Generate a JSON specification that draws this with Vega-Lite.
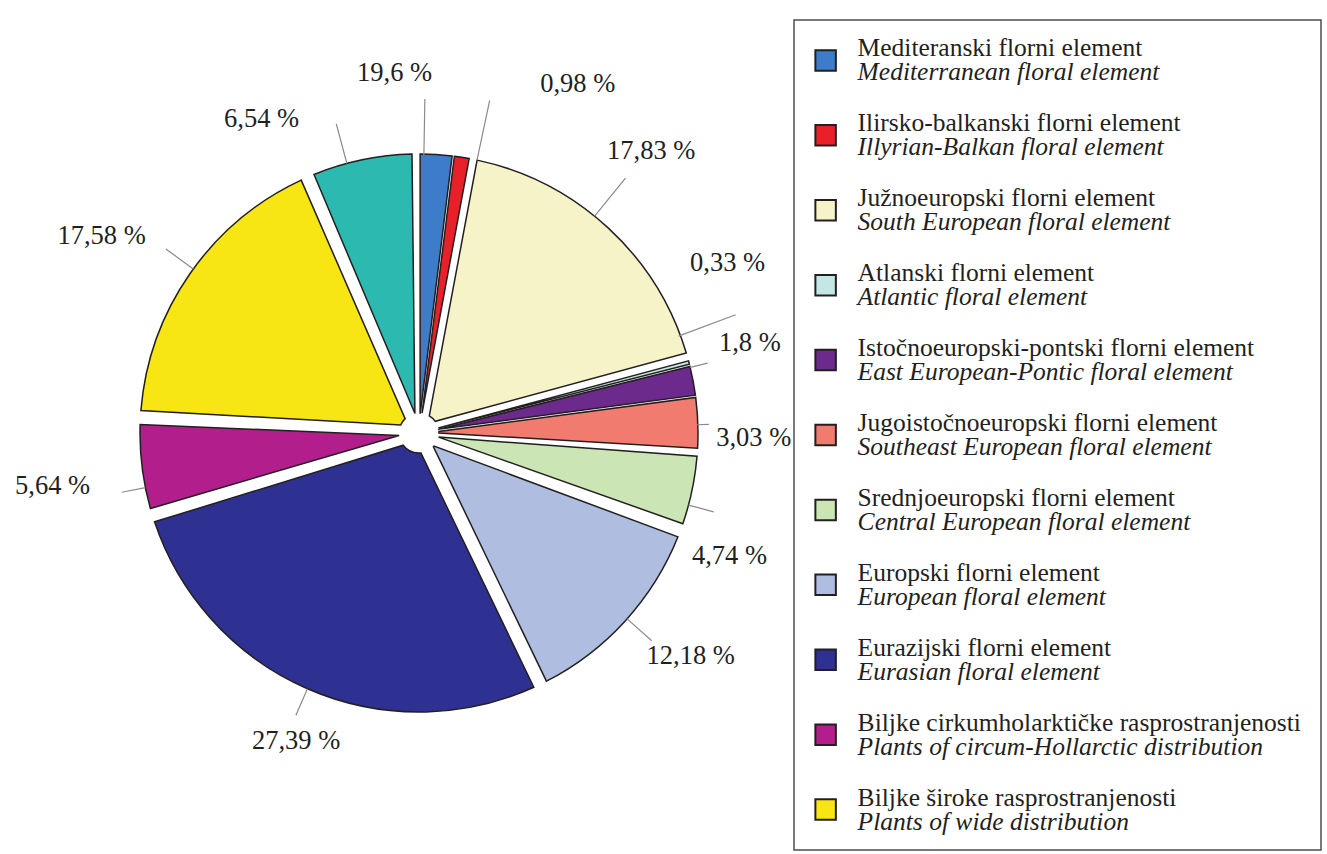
{
  "$schema": "https://vega.github.io/schema/vega-lite/v6.json",
  "background": "white",
  "padding": {"left": 15, "top": 19, "right": 0, "bottom": 0},
  "spacing": 0,
  "bounds": "flush",
  "config": {"font": "Liberation Serif"},
  "datasets": {
    "slices": [
      {"order": 1, "key": "med", "value": 1.96, "label": "19,6 %", "hr": "Mediteranski florni element", "en": "Mediterranean floral element"},
      {"order": 2, "key": "ill", "value": 0.98, "label": "0,98 %", "hr": "Ilirsko-balkanski florni element", "en": "Illyrian-Balkan floral element"},
      {"order": 3, "key": "se", "value": 17.83, "label": "17,83 %", "hr": "Južnoeuropski florni element", "en": "South European floral element"},
      {"order": 4, "key": "atl", "value": 0.33, "label": "0,33 %", "hr": "Atlanski florni element", "en": "Atlantic floral element"},
      {"order": 5, "key": "eep", "value": 1.8, "label": "1,8 %", "hr": "Istočnoeuropski-pontski florni element", "en": "East European-Pontic floral element"},
      {"order": 6, "key": "see", "value": 3.03, "label": "3,03 %", "hr": "Jugoistočnoeuropski florni element", "en": "Southeast European floral element"},
      {"order": 7, "key": "ce", "value": 4.74, "label": "4,74 %", "hr": "Srednjoeuropski florni element", "en": "Central European floral element"},
      {"order": 8, "key": "eur", "value": 12.18, "label": "12,18 %", "hr": "Europski florni element", "en": "European floral element"},
      {"order": 9, "key": "eura", "value": 27.39, "label": "27,39 %", "hr": "Eurazijski florni element", "en": "Eurasian floral element"},
      {"order": 10, "key": "circ", "value": 5.64, "label": "5,64 %", "hr": "Biljke cirkumholarktičke rasprostranjenosti", "en": "Plants of circum-Hollarctic distribution"},
      {"order": 11, "key": "wide", "value": 17.58, "label": "17,58 %", "hr": "Biljke široke rasprostranjenosti", "en": "Plants of wide distribution"},
      {"order": 12, "key": "other", "value": 6.54, "label": "6,54 %", "hr": null, "en": null}
    ]
  },
  "hconcat": [
    {
      "width": 750,
      "height": 826,
      "view": {"stroke": null},
      "data": {"name": "slices"},
      "transform": [
        {"stack": "value", "groupby": [], "sort": [{"field": "order", "order": "ascending"}], "as": ["v0", "v1"]}
      ],
      "layer": [
        {
          "transform": [{"filter": {"field": "key", "oneOf": ["se", "ce", "eur", "eura", "circ", "wide", "other"]}}],
          "mark": {"type": "arc", "innerRadius": 20, "outerRadius": 279, "padAngle": 0.05, "stroke": "#231f20", "strokeWidth": 1.5},
          "encoding": {
            "theta": {"field": "v0", "type": "quantitative", "scale": {"domain": [0, 100]}},
            "theta2": {"field": "v1"},
            "color": {"field": "key", "type": "nominal", "legend": null,
              "scale": {"domain": ["med", "ill", "se", "atl", "eep", "see", "ce", "eur", "eura", "circ", "wide", "other"],
                        "range": ["#3d7cc9", "#e8202a", "#f7f3c8", "#c4e6e4", "#6b2a8c", "#f07b6e", "#cce5b5", "#aebde0", "#2e3192", "#b31e8d", "#f7e614", "#2bb9b0"]}}
          }
        },
        {
          "transform": [{"filter": {"field": "key", "oneOf": ["med", "ill", "atl", "eep", "see"]}}],
          "mark": {"type": "arc", "innerRadius": 20, "outerRadius": 279, "padAngle": 0.008, "stroke": "#231f20", "strokeWidth": 1.5},
          "encoding": {
            "theta": {"field": "v0", "type": "quantitative", "scale": {"domain": [0, 100]}},
            "theta2": {"field": "v1"},
            "color": {"field": "key", "type": "nominal", "legend": null}
          }
        },
        {
          "transform": [
            {"fold": ["v0", "v1"], "as": ["edge", "pos"]},
            {"aggregate": [{"op": "mean", "field": "pos", "as": "mid"}], "groupby": ["key", "label"]}
          ],
          "encoding": {
            "theta": {"field": "mid", "type": "quantitative", "scale": {"domain": [0, 100]}}
          },
          "layer": [
            {"transform": [{"filter": "datum.key === 'med'"}], "layer": [
              {"mark": {"type": "arc", "innerRadius": 278, "outerRadius": 334, "thetaOffset": -0.044, "theta2Offset": -0.044, "stroke": "#8a8a8a", "strokeWidth": 1.2, "fill": null}, "encoding": {"theta2": {"field": "mid"}}},
              {"mark": {"type": "text", "radius": 350, "dx": -46, "dy": -11, "fontSize": 26.5, "font": "Liberation Serif", "color": "#231f20", "align": "center", "baseline": "middle"}, "encoding": {"text": {"field": "label"}}}
            ]},
            {"transform": [{"filter": "datum.key === 'ill'"}], "layer": [
              {"mark": {"type": "arc", "innerRadius": 279, "outerRadius": 340, "thetaOffset": 0.0555, "theta2Offset": 0.0555, "stroke": "#8a8a8a", "strokeWidth": 1.2, "fill": null}, "encoding": {"theta2": {"field": "mid"}}},
              {"mark": {"type": "text", "radius": 350, "dx": 105, "dy": -3, "fontSize": 26.5, "font": "Liberation Serif", "color": "#231f20", "align": "center", "baseline": "middle"}, "encoding": {"text": {"field": "label"}}}
            ]},
            {"transform": [{"filter": "datum.key === 'se'"}], "layer": [
              {"mark": {"type": "arc", "innerRadius": 279, "outerRadius": 328, "thetaOffset": -0.064, "theta2Offset": -0.064, "stroke": "#8a8a8a", "strokeWidth": 1.2, "fill": null}, "encoding": {"theta2": {"field": "mid"}}},
              {"mark": {"type": "text", "radius": 350, "dx": -5, "dy": -25, "fontSize": 26.5, "font": "Liberation Serif", "color": "#231f20", "align": "center", "baseline": "middle"}, "encoding": {"text": {"field": "label"}}}
            ]},
            {"transform": [{"filter": "datum.key === 'atl'"}], "layer": [
              {"mark": {"type": "arc", "innerRadius": 277, "outerRadius": 338, "thetaOffset": -0.102, "theta2Offset": -0.102, "stroke": "#8a8a8a", "strokeWidth": 1.2, "fill": null}, "encoding": {"theta2": {"field": "mid"}}},
              {"mark": {"type": "text", "radius": 350, "dx": -30, "dy": -82, "fontSize": 26.5, "font": "Liberation Serif", "color": "#231f20", "align": "center", "baseline": "middle"}, "encoding": {"text": {"field": "label"}}}
            ]},
            {"transform": [{"filter": "datum.key === 'eep'"}], "layer": [
              {"mark": {"type": "arc", "innerRadius": 279, "outerRadius": 297, "thetaOffset": -0.049, "theta2Offset": -0.049, "stroke": "#8a8a8a", "strokeWidth": 1.2, "fill": null}, "encoding": {"theta2": {"field": "mid"}}},
              {"mark": {"type": "text", "radius": 350, "dx": -13, "dy": -24, "fontSize": 26.5, "font": "Liberation Serif", "color": "#231f20", "align": "center", "baseline": "middle"}, "encoding": {"text": {"field": "label"}}}
            ]},
            {"transform": [{"filter": "datum.key === 'see'"}], "layer": [
              {"mark": {"type": "arc", "innerRadius": 278, "outerRadius": 290, "thetaOffset": 0.007, "theta2Offset": 0.007, "stroke": "#8a8a8a", "strokeWidth": 1.2, "fill": null}, "encoding": {"theta2": {"field": "mid"}}},
              {"mark": {"type": "text", "radius": 350, "dx": -15, "dy": 18, "fontSize": 26.5, "font": "Liberation Serif", "color": "#231f20", "align": "center", "baseline": "middle"}, "encoding": {"text": {"field": "label"}}}
            ]},
            {"transform": [{"filter": "datum.key === 'ce'"}], "layer": [
              {"mark": {"type": "arc", "innerRadius": 279, "outerRadius": 305, "thetaOffset": 0.054, "theta2Offset": 0.054, "stroke": "#8a8a8a", "strokeWidth": 1.2, "fill": null}, "encoding": {"theta2": {"field": "mid"}}},
              {"mark": {"type": "text", "radius": 350, "dx": -32, "dy": 51, "fontSize": 26.5, "font": "Liberation Serif", "color": "#231f20", "align": "center", "baseline": "middle"}, "encoding": {"text": {"field": "label"}}}
            ]},
            {"transform": [{"filter": "datum.key === 'eur'"}], "layer": [
              {"mark": {"type": "arc", "innerRadius": 279, "outerRadius": 312, "thetaOffset": -0.01, "theta2Offset": -0.01, "stroke": "#8a8a8a", "strokeWidth": 1.2, "fill": null}, "encoding": {"theta2": {"field": "mid"}}},
              {"mark": {"type": "text", "radius": 350, "dx": 13, "dy": -13, "fontSize": 26.5, "font": "Liberation Serif", "color": "#231f20", "align": "center", "baseline": "middle"}, "encoding": {"text": {"field": "label"}}}
            ]},
            {"transform": [{"filter": "datum.key === 'eura'"}], "layer": [
              {"mark": {"type": "arc", "innerRadius": 279, "outerRadius": 308, "stroke": "#8a8a8a", "strokeWidth": 1.2, "fill": null}, "encoding": {"theta2": {"field": "mid"}}},
              {"mark": {"type": "text", "radius": 350, "dx": 17, "dy": -13, "fontSize": 26.5, "font": "Liberation Serif", "color": "#231f20", "align": "center", "baseline": "middle"}, "encoding": {"text": {"field": "label"}}}
            ]},
            {"transform": [{"filter": "datum.key === 'circ'"}], "layer": [
              {"mark": {"type": "arc", "innerRadius": 279, "outerRadius": 303, "thetaOffset": -0.075, "theta2Offset": -0.075, "stroke": "#8a8a8a", "strokeWidth": 1.2, "fill": null}, "encoding": {"theta2": {"field": "mid"}}},
              {"mark": {"type": "text", "radius": 350, "dx": -19, "dy": 10, "fontSize": 26.5, "font": "Liberation Serif", "color": "#231f20", "align": "center", "baseline": "middle"}, "encoding": {"text": {"field": "label"}}}
            ]},
            {"transform": [{"filter": "datum.key === 'wide'"}], "layer": [
              {"mark": {"type": "arc", "innerRadius": 279, "outerRadius": 313, "thetaOffset": 0.021, "theta2Offset": 0.021, "stroke": "#8a8a8a", "strokeWidth": 1.2, "fill": null}, "encoding": {"theta2": {"field": "mid"}}},
              {"mark": {"type": "text", "radius": 350, "dx": -30, "dy": 3, "fontSize": 26.5, "font": "Liberation Serif", "color": "#231f20", "align": "center", "baseline": "middle"}, "encoding": {"text": {"field": "label"}}}
            ]},
            {"transform": [{"filter": "datum.key === 'other'"}], "layer": [
              {"mark": {"type": "arc", "innerRadius": 279, "outerRadius": 320, "thetaOffset": -0.056, "theta2Offset": -0.056, "stroke": "#8a8a8a", "strokeWidth": 1.2, "fill": null}, "encoding": {"theta2": {"field": "mid"}}},
              {"mark": {"type": "text", "radius": 350, "dx": -86, "dy": 29, "fontSize": 26.5, "font": "Liberation Serif", "color": "#231f20", "align": "center", "baseline": "middle"}, "encoding": {"text": {"field": "label"}}}
            ]}
          ]
        }
      ]
    },
    {
      "width": 527,
      "height": 830,
      "view": {"stroke": "#4d4d4d", "strokeWidth": 1.5},
      "data": {"name": "slices"},
      "transform": [{"filter": "datum.hr != null"}],
      "encoding": {
        "y": {"field": "order", "type": "ordinal", "scale": {"type": "point", "padding": 0.54}, "axis": null},
        "x": {"datum": 6, "type": "quantitative", "scale": {"domain": [0, 100]}, "axis": null}
      },
      "layer": [
        {"mark": {"type": "square", "size": 420, "filled": true, "opacity": 1, "stroke": "#231f20", "strokeWidth": 2},
         "encoding": {"color": {"field": "key", "type": "nominal", "legend": null,
              "scale": {"domain": ["med", "ill", "se", "atl", "eep", "see", "ce", "eur", "eura", "circ", "wide", "other"],
                        "range": ["#3d7cc9", "#e8202a", "#f7f3c8", "#c4e6e4", "#6b2a8c", "#f07b6e", "#cce5b5", "#aebde0", "#2e3192", "#b31e8d", "#f7e614", "#2bb9b0"]}}}},
        {"mark": {"type": "text", "align": "left", "baseline": "alphabetic", "dx": 32, "dy": -4, "font": "Liberation Serif", "fontSize": 25.5, "color": "#231f20"},
         "encoding": {"text": {"field": "hr"}}},
        {"mark": {"type": "text", "align": "left", "baseline": "alphabetic", "dx": 32, "dy": 20, "font": "Liberation Serif", "fontSize": 25.5, "fontStyle": "italic", "color": "#231f20"},
         "encoding": {"text": {"field": "en"}}}
      ]
    }
  ]
}
